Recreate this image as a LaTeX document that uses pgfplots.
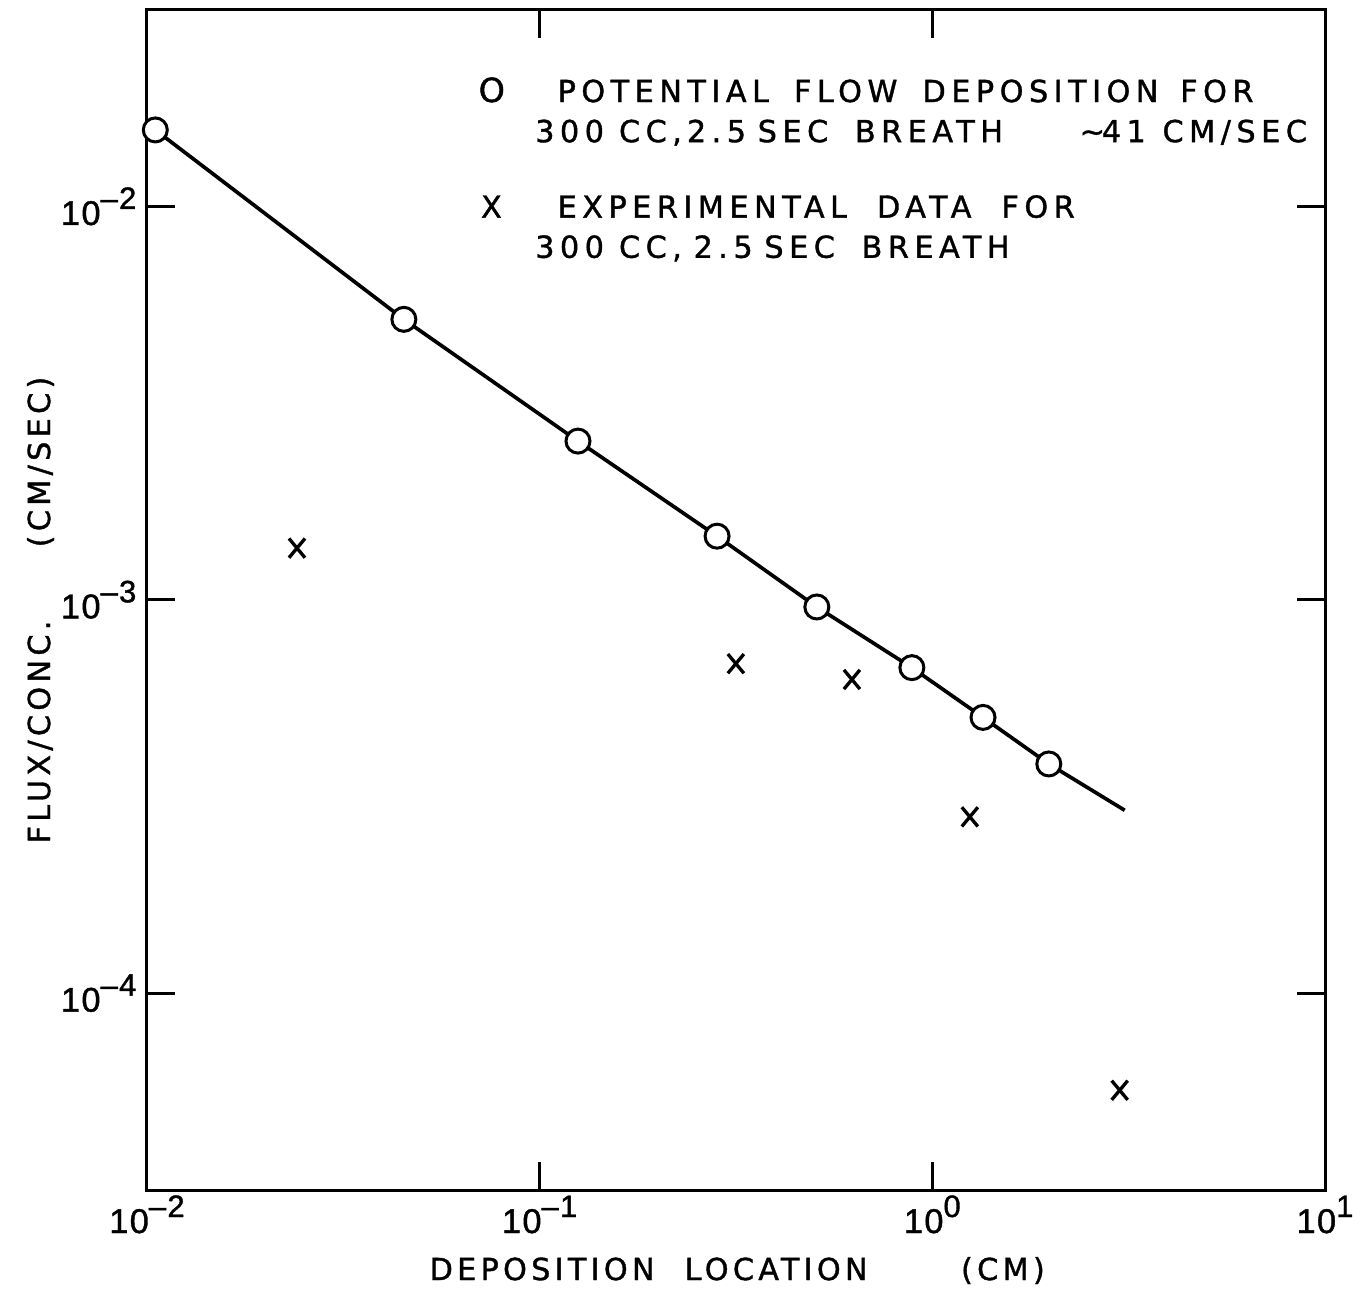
\documentclass[border=0pt]{standalone}
\usepackage{fontspec}
\setmainfont{DejaVu Sans}[LetterSpace=18, WordSpace=1.8, FakeBold=1.2]
\newfontfamily\labfont{DejaVu Sans}[LetterSpace=14, WordSpace=1.8, FakeBold=1.2]
\newfontfamily\tickfont{Liberation Sans}[FakeBold=1.2, LetterSpace=4]
\newcommand{\tl}[1]{10\raisebox{4.8pt}{\fontsize{9.3}{9}\selectfont #1}}
\newcommand{\g}[1]{\hspace{#1pt}}
\usepackage{pgfplots}
\pgfplotsset{compat=1.18}
\begin{document}
\begin{tikzpicture}
\begin{axis}[
  scale only axis, width=353.4pt, height=354pt,
  xmode=log, ymode=log,
  xmin=0.01, xmax=10, ymin=3.1623e-5, ymax=0.031623,
  xtick={0.01,0.1,1,10},
  xticklabels={\tl{–2},\tl{–1},\tl{0},\tl{1}},
  ytick={1e-4,1e-3,1e-2},
  yticklabels={\tl{–4},\tl{–3},\tl{–2}},
  xminorticks=false, yminorticks=false,
  major tick length=8.4pt,
  axis line style={line width=0.9pt},
  every tick/.style={black, line width=0.9pt},
  tick label style={font=\tickfont\fontsize{10.3}{11}\selectfont, inner sep=0pt},
  xticklabel style={anchor=base, yshift=-12.9pt},
  yticklabel style={anchor=base east, xshift=-3pt, yshift=-5.5pt},
  clip=false,
]
\addplot[black, line width=1.1pt, no marks] coordinates {
(0.0105,0.01567) (0.0451,0.00517) (0.1252,0.002535) (0.283,0.001453) (0.508,0.00096) (0.887,0.000673) (1.346,0.000503) (1.98,0.000383) (3.09,0.000292)
};
\addplot[only marks, mark=*, mark size=3.6pt, mark options={fill=white, draw=black, line width=0.9pt}] coordinates {
(0.0105,0.01567) (0.0451,0.00517) (0.1252,0.002535) (0.283,0.001453) (0.508,0.00096) (0.887,0.000673) (1.346,0.000503) (1.98,0.000383)
};
\addplot[only marks, mark=x, mark size=3.4pt, mark options={black, line width=1pt, yscale=1.2}] coordinates {
(0.0241,0.001355) (0.316,0.000689) (0.624,0.000628) (1.246,0.000281) (3.0,5.67e-5)
};
\begin{scope}[font=\fontsize{9.1}{10}\selectfont]
\node[anchor=base west, inner sep=0pt] at (rel axis cs:0.281,0.922) {\fontsize{10}{10}\selectfont O};
\node[anchor=base west, inner sep=0pt] at (rel axis cs:0.348,0.922) {POTENTIAL\g{7.5}FLOW\g{7.5}DEPOSITION\g{6.5}FOR};
\node[anchor=base west, inner sep=0pt] at (rel axis cs:0.329,0.888) {300\g{4.5}CC,\g{1.5}2.5\g{3.5}SEC\g{8}BREATH\g{23}\textasciitilde\hspace{-1pt}41\g{5}CM/SEC};
\node[anchor=base west, inner sep=0pt] at (rel axis cs:0.283,0.824) {X};
\node[anchor=base west, inner sep=0pt] at (rel axis cs:0.348,0.824) {EXPERIMENTAL\g{9}DATA\g{9}FOR};
\node[anchor=base west, inner sep=0pt] at (rel axis cs:0.329,0.790) {300\g{4.5}CC,\g{3.5}2.5\g{3.5}SEC\g{8}BREATH};
\node[anchor=base, inner sep=0pt, font=\labfont\fontsize{9.1}{10}\selectfont] at (rel axis cs:0.501,-0.0763) {DEPOSITION\g{9}LOCATION\g{28}(CM)};
\node[anchor=base, inner sep=0pt, rotate=90, font=\labfont\fontsize{9.1}{10}\selectfont] at (rel axis cs:-0.0823,0.4915) {FLUX/CONC.\g{22}(CM/SEC)};
\end{scope}
\end{axis}
\pgfresetboundingbox
\path ([shift={(-44.1pt,-30pt)}]current axis.south west) rectangle ([shift={(364.5pt,357pt)}]current axis.south west);
\end{tikzpicture}
\end{document}
